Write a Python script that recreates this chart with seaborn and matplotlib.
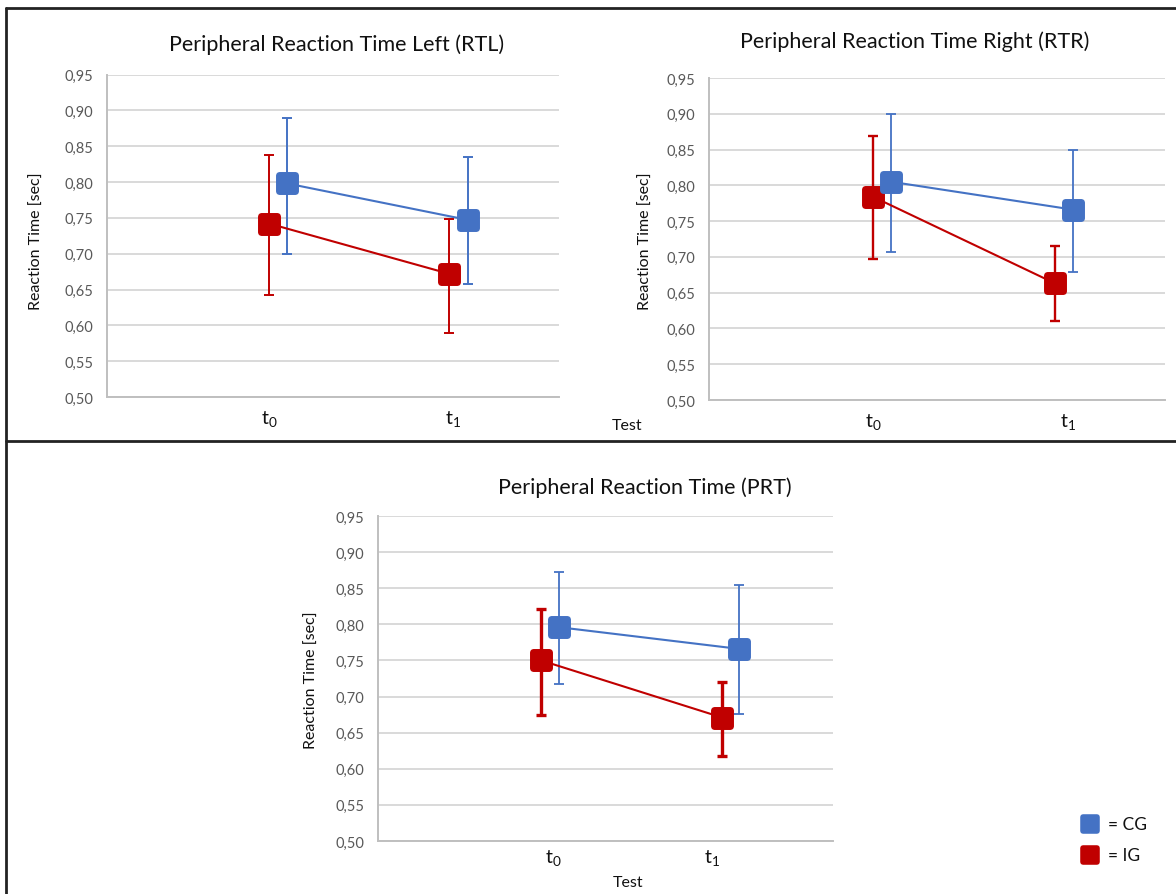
import numpy as np
import pandas as pd
import matplotlib
matplotlib.use("Agg")
import matplotlib.pyplot as plt
import seaborn as sns
from matplotlib.markers import MarkerStyle
from matplotlib.lines import Line2D

# ---------------- data ----------------
tests = ["t0", "t1"]
tick_labels = [r"$\mathregular{t_0}$", r"$\mathregular{t_1}$"]
groups = ["CG", "IG"]
titles = ["Peripheral Reaction Time Left (RTL)",
          "Peripheral Reaction Time Right (RTR)",
          "Peripheral Reaction Time (PRT)"]
y_ticks = [0.50, 0.55, 0.60, 0.65, 0.70, 0.75, 0.80, 0.85, 0.90, 0.95]

rtl_cg_mean = [0.798, 0.747]
rtl_cg_low = [0.700, 0.657]
rtl_cg_high = [0.890, 0.835]
rtl_ig_mean = [0.742, 0.672]
rtl_ig_low = [0.642, 0.589]
rtl_ig_high = [0.837, 0.749]

rtr_cg_mean = [0.805, 0.766]
rtr_cg_low = [0.707, 0.679]
rtr_cg_high = [0.900, 0.849]
rtr_ig_mean = [0.784, 0.663]
rtr_ig_low = [0.697, 0.610]
rtr_ig_high = [0.869, 0.715]

prt_cg_mean = [0.796, 0.766]
prt_cg_low = [0.718, 0.676]
prt_cg_high = [0.872, 0.854]
prt_ig_mean = [0.750, 0.671]
prt_ig_low = [0.675, 0.618]
prt_ig_high = [0.821, 0.720]

panels_data = [
    {"CG": (rtl_cg_mean, rtl_cg_low, rtl_cg_high), "IG": (rtl_ig_mean, rtl_ig_low, rtl_ig_high)},
    {"CG": (rtr_cg_mean, rtr_cg_low, rtr_cg_high), "IG": (rtr_ig_mean, rtr_ig_low, rtr_ig_high)},
    {"CG": (prt_cg_mean, prt_cg_low, prt_cg_high), "IG": (prt_ig_mean, prt_ig_low, prt_ig_high)},
]

# ---------------- layout / style ----------------
W, H = 1176, 895
colors = {"CG": "#4472C4", "IG": "#C00000"}
layout = [
    dict(rect=(107, 75.5, 559, 398), xlim=(-0.880, 1.576),
         xpos={"IG": [0.0, 0.978], "CG": [0.098, 1.082]}, elw={"IG": 1.4, "CG": 1.4},
         title=(337, 45), ylab=(37, 241), xpad=8),
    dict(rect=(709, 79, 1165, 401), xlim=(-0.841, 1.497),
         xpos={"IG": [0.0, 0.933], "CG": [0.092, 1.026]}, elw={"IG": 1.7, "CG": 1.3},
         title=(915, 42), ylab=(646, 241), xpad=8),
    dict(rect=(378, 517, 833, 842), xlim=(-1.101, 1.761),
         xpos={"IG": [-0.075, 1.063], "CG": [0.038, 1.170]}, elw={"IG": 2.4, "CG": 1.3},
         title=(645, 488), ylab=(312, 680), xpad=4),
]

sns.set_theme(style="white")
plt.rcParams["font.family"] = ["Lato", "DejaVu Sans"]
plt.rcParams["mathtext.fontset"] = "custom"
plt.rcParams["mathtext.rm"] = "Lato"

fig = plt.figure(figsize=(W / 100, H / 100), dpi=100)
fig.patch.set_facecolor("white")


def fx(x):
    return x / W


def fy(y):
    return 1 - y / H


rmarker = MarkerStyle("s", joinstyle="round")

for i, (data, lay) in enumerate(zip(panels_data, layout)):
    l, t, r, b = lay["rect"]
    ax = fig.add_axes([fx(l), fy(b), (r - l) / W, (b - t) / H])
    ax.set_facecolor("white")
    for g in ["IG", "CG"]:
        mean, lo, hi = data[g]
        df = pd.DataFrame({"x": lay["xpos"][g], "value": mean, "test": tests})
        mean = np.array(mean)
        ax.errorbar(df["x"], mean, yerr=[mean - np.array(lo), np.array(hi) - mean],
                    fmt="none", ecolor=colors[g], elinewidth=lay["elw"][g],
                    capsize=3.5, capthick=lay["elw"][g], zorder=2)
        sns.lineplot(data=df, x="x", y="value", color=colors[g], ax=ax,
                     marker=rmarker, markersize=12, markeredgewidth=5,
                     markeredgecolor=colors[g], markerfacecolor=colors[g],
                     linewidth=1.5, sort=False, legend=False, zorder=3)
    ax.set_xlim(*lay["xlim"])
    ax.set_ylim(0.50, 0.95)
    ax.set_yticks(y_ticks)
    ax.set_yticklabels([f"{v:.2f}".replace(".", ",") for v in y_ticks],
                       color="#595959", fontsize=10.5)
    ax.set_xticks([0, 1])
    ax.set_xticklabels(tick_labels, fontsize=14, color="#111111")
    ax.tick_params(axis="both", length=0)
    ax.tick_params(axis="y", pad=10)
    ax.tick_params(axis="x", pad=lay["xpad"])
    ax.set_xlabel("")
    ax.set_ylabel("")
    ax.yaxis.grid(True, color="#D9D9D9", linewidth=1.4)
    ax.xaxis.grid(False)
    ax.set_axisbelow(True)
    for s in ["top", "right"]:
        ax.spines[s].set_visible(False)
    for s in ["left", "bottom"]:
        ax.spines[s].set_color("#BFBFBF")
        ax.spines[s].set_linewidth(1.4)
    fig.text(fx(lay["title"][0]), fy(lay["title"][1]), titles[i],
             ha="center", va="center", fontsize=15.5, color="#111111")
    fig.text(fx(lay["ylab"][0]), fy(lay["ylab"][1]), "Reaction Time [sec]",
             rotation=90, ha="center", va="center", fontsize=11.5, color="#111111")

fig.text(fx(627), fy(426), "Test", ha="center", va="center", fontsize=11.5, color="#111111")
fig.text(fx(628), fy(883), "Test", ha="center", va="center", fontsize=11.5, color="#111111")

# frame lines
frame_kw = dict(color="#222222", linewidth=2, transform=fig.transFigure)
fig.add_artist(Line2D([fx(6), 1], [fy(9), fy(9)], **frame_kw))
fig.add_artist(Line2D([fx(6), fx(6)], [fy(9), 0], **frame_kw))
fig.add_artist(Line2D([fx(6), 1], [fy(442), fy(442)], **frame_kw))

# legend
for g, yy in [("CG", 825), ("IG", 856)]:
    fig.add_artist(Line2D([fx(1090)], [fy(yy)], marker=rmarker, markersize=10,
                          markeredgewidth=4, color=colors[g], linestyle="none",
                          transform=fig.transFigure))
    fig.text(fx(1108), fy(yy), f"= {g}", ha="left", va="center", fontsize=12.5, color="#111111")

fig.savefig("out.png", dpi=100, facecolor="white")
